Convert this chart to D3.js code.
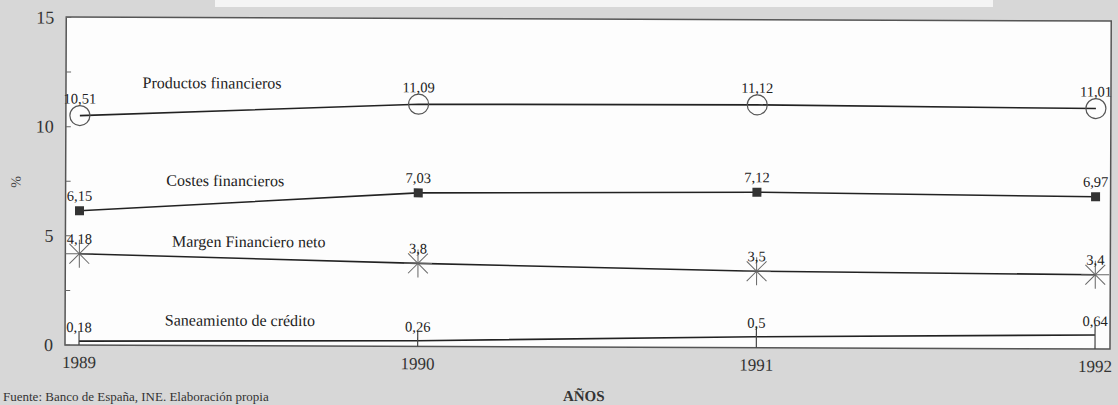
<!DOCTYPE html>
<html><head><meta charset="utf-8">
<script src="https://cdn.jsdelivr.net/npm/d3@7"></script>
<style>html,body{margin:0;padding:0;background:#d7d7d7;overflow:hidden}</style>
</head><body>
<svg id="c" width="1118" height="405"></svg>
<script>
const years = [1989, 1990, 1991, 1992];
const productos = [10.51, 11.09, 11.12, 11.01];
const costes = [6.15, 7.03, 7.12, 6.97];
const margen = [4.18, 3.8, 3.5, 3.4];
const saneamiento = [0.18, 0.26, 0.5, 0.64];
const valueLabels = {
  productos: ["10,51", "11,09", "11,12", "11,01"],
  costes: ["6,15", "7,03", "7,12", "6,97"],
  margen: ["4,18", "3,8", "3,5", "3,4"],
  saneamiento: ["0,18", "0,26", "0,5", "0,64"]
};
const seriesNames = ["Productos financieros", "Costes financieros", "Margen Financiero neto", "Saneamiento de crédito"];
const yTicks = [0, 5, 10, 15];
const yMinorTicks = [0, 2.5, 5, 7.5, 10, 12.5, 15];
// annotation anchors in data space (year, value)
const nameAnchors = [[1989.39, 11.78], [1989.43, 7.31], [1989.50, 4.52], [1989.475, 0.91]];

(function () {
const svg = d3.select("#c");
const F = "'Liberation Serif','DejaVu Serif',serif";
const pL = 65, pR = 1110, pT = 17, pB = 345;
const x = d3.scaleLinear().domain([1989, 1992]).range([79, 1095]);
const y = d3.scaleLinear().domain([0, 15]).range([pB, pT + 0.5]);

// scan artefact at top
svg.append("rect").attr("x", 215).attr("y", 0).attr("width", 778).attr("height", 7).attr("fill", "#f4f4f4");

const g = svg.append("g").attr("transform", `rotate(0.22, ${pL}, ${pB})`);

g.append("rect").attr("x", pL).attr("y", pT).attr("width", pR - pL).attr("height", pB - pT)
  .attr("fill", "#fdfdfd").attr("stroke", "#555").attr("stroke-width", 1.5);

g.selectAll(".mt").data(yMinorTicks).enter().append("line")
  .attr("x1", pL).attr("x2", pL + 5).attr("y1", d => y(d)).attr("y2", d => y(d))
  .attr("stroke", "#666").attr("stroke-width", 1);
g.selectAll(".yl").data(yTicks).enter().append("text")
  .attr("x", 53).attr("y", d => y(d) + 6).attr("text-anchor", "end")
  .attr("font-family", F).attr("font-size", 18).attr("fill", "#333").text(d => d);

g.selectAll(".xl").data(years).enter().append("text")
  .attr("x", d => x(d)).attr("y", 368).attr("text-anchor", "middle")
  .attr("font-family", F).attr("font-size", 17).attr("fill", "#333").text(d => d);

g.append("text").attr("x", 584).attr("y", 399).attr("text-anchor", "middle")
  .attr("font-family", F).attr("font-size", 15).attr("font-weight", "bold").attr("fill", "#333").text("AÑOS");

g.append("text").attr("transform", "translate(20,182) rotate(-90)").attr("text-anchor", "middle")
  .attr("font-family", F).attr("font-size", 14).attr("fill", "#444").text("%");

const series = [
  {vals: productos, lab: valueLabels.productos, m: "circle", off: 12},
  {vals: costes, lab: valueLabels.costes, m: "square", off: 10},
  {vals: margen, lab: valueLabels.margen, m: "star", off: 10},
  {vals: saneamiento, lab: valueLabels.saneamiento, m: "bar", off: 9}
];
const line = d3.line().x((d, i) => x(years[i])).y(d => y(d));

series.forEach((s, si) => {
  g.append("path").attr("d", line(s.vals)).attr("fill", "none")
    .attr("stroke", "#222").attr("stroke-width", 1.6);
  s.vals.forEach((v, i) => {
    const cx = x(years[i]), cy = y(v);
    if (s.m === "circle") {
      g.append("circle").attr("cx", cx).attr("cy", cy).attr("r", 10)
        .attr("fill", "none").attr("stroke", "#555").attr("stroke-width", 1.2);
    } else if (s.m === "square") {
      g.append("rect").attr("x", cx - 4.5).attr("y", cy - 4.5).attr("width", 9).attr("height", 9).attr("fill", "#333");
    } else if (s.m === "star") {
      const r = 14;
      [0, 45, 90, 135].forEach(a => {
        const dx = r * Math.cos(a * Math.PI / 180), dy = r * Math.sin(a * Math.PI / 180);
        g.append("line").attr("x1", cx - dx).attr("y1", cy - dy).attr("x2", cx + dx).attr("y2", cy + dy)
          .attr("stroke", "#666").attr("stroke-width", 1);
      });
    } else {
      g.append("line").attr("x1", cx).attr("x2", cx).attr("y1", cy - 10).attr("y2", y(0))
        .attr("stroke", "#444").attr("stroke-width", 1.2);
    }
    g.append("text").attr("x", cx).attr("y", cy - s.off).attr("text-anchor", "middle")
      .attr("font-family", F).attr("font-size", 14.5).attr("fill", "#222").text(s.lab[i]);
  });
  g.append("text").attr("x", x(nameAnchors[si][0])).attr("y", y(nameAnchors[si][1]))
    .attr("text-anchor", "middle").attr("font-family", F).attr("font-size", 16)
    .attr("fill", "#222").text(seriesNames[si]);
});

svg.append("text").attr("x", 3).attr("y", 401).attr("font-family", F).attr("font-size", 13)
  .attr("fill", "#333").text("Fuente: Banco de España, INE. Elaboración propia");
})();
</script>
</body></html>
